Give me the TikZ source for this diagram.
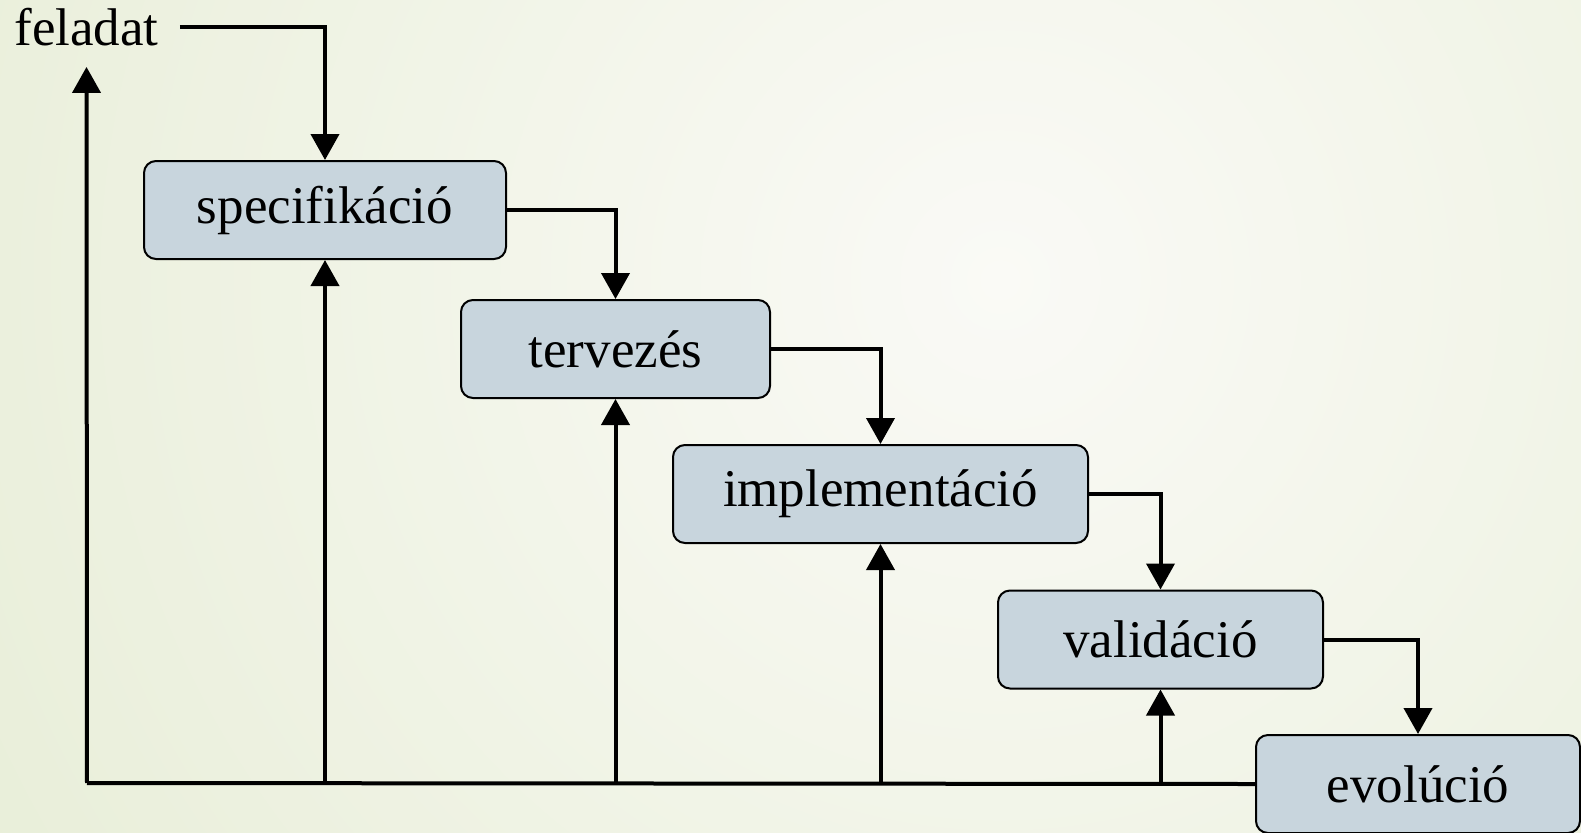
\documentclass[tikz,border=0pt]{standalone}
\usepackage{fontspec}
\setmainfont{Liberation Serif}
\usetikzlibrary{arrows.meta}

\definecolor{bgedge}{RGB}{220,230,196}
\definecolor{bgmid}{RGB}{250,250,246}
\definecolor{boxfill}{RGB}{200,213,221}

\begin{document}
\begin{tikzpicture}[x=0.5pt, y=-0.5pt,
  phase/.style={draw, fill=boxfill, line width=1pt, rounded corners=6pt,
    minimum height=49pt, inner sep=0, font=\fontsize{26.5}{30}\selectfont},
  flow/.style={line width=2pt, -{Triangle[length=13pt,width=14pt]}}]

  % Background
  \useasboundingbox (0,0) rectangle (1581,832);
  \begin{scope}
    \clip (0,0) rectangle (1581,832);
    \shade[inner color=bgmid, outer color=bgedge] (1000,280) circle (2000);
  \end{scope}

  % Task
  \node[anchor=base, inner sep=10.5pt, font=\fontsize{26.5}{30}\selectfont] (feladat) at (86.5,45) {feladat};

  % Phases
  \node[phase, minimum width=181pt] (spec) at (325,210) {specifikáció};
  \node[phase, minimum width=154.5pt] (terv) at (615.5,349) {tervezés};
  \node[phase, minimum width=207.5pt] (impl) at (880.5,494) {implementáció};
  \node[phase, minimum width=162.5pt] (valid) at (1160.5,639.5) {validáció};
  \node[phase, minimum width=162pt] (evol) at (1418,784) {evolúció};

  % Forward arrows
  \draw[flow] (feladat.east) -| (spec.north);
  \draw[flow] (spec.east) -| (terv.north);
  \draw[flow] (terv.east) -| (impl.north);
  \draw[flow] (impl.east) -| (valid.north);
  \draw[flow] (valid.east) -| (evol.north);

  % Feedback
  \coordinate (corner) at (87,783);
  \draw[line width=2pt] (evol.west) -- (corner);
  \draw[flow] (corner) -- (feladat.south);
  \draw[flow] (spec.south |- corner) -- (spec.south);
  \draw[flow] (terv.south |- corner) -- (terv.south);
  \draw[flow] (impl.south |- corner) -- (impl.south);
  \draw[flow] (valid.south |- corner) -- (valid.south);
\end{tikzpicture}
\end{document}
